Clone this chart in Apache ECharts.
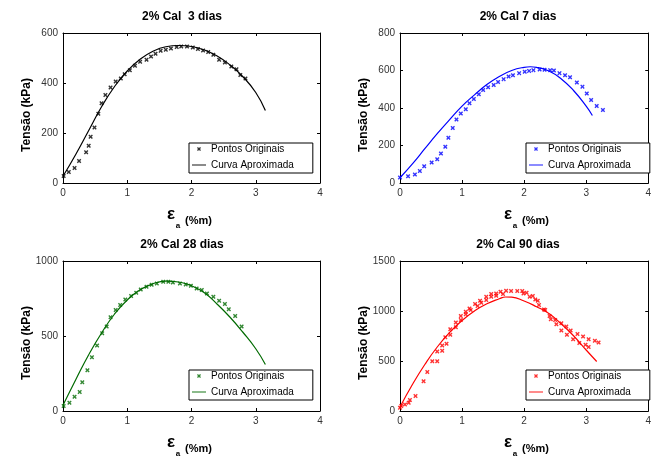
<!DOCTYPE html>
<html><head><meta charset="utf-8">
<script src="https://cdn.jsdelivr.net/npm/echarts@6/dist/echarts.min.js"></script>
<style>html,body{margin:0;padding:0;background:#fff}#c{width:654px;height:460px}</style>
</head><body><div id="c"></div>
<script>
// ---- data ----
const titles = ['2% Cal  3 dias', '2% Cal 7 dias', '2% Cal 28 dias', '2% Cal 90 dias'];
const colors = ['#000000', '#0000ff', '#006a00', '#ff0000'];
const yMax = [600, 800, 1000, 1500];
const yStep = [200, 200, 500, 500];
const xMin = 0, xMax = 4, xStep = 1;
const legendNames = ['Pontos Originais', 'Curva Aproximada'];
const yLabel = 'Tensão (kPa)';
const xLabelMain = 'ε', xLabelSub = 'a', xLabelUnit = '(%m)';

// 3 dias
const pts3x = [0.01,0.09,0.18,0.25,0.36,0.40,0.43,0.49,0.55,0.60,0.66,0.74,0.82,0.90,0.96,1.04,1.12,1.20,1.30,1.37,1.44,1.52,1.60,1.68,1.77,1.84,1.93,2.02,2.10,2.18,2.26,2.34,2.43,2.52,2.62,2.70,2.76,2.84];
const pts3y = [28,44,60,88,123,149,185,222,277,319,352,382,406,418,435,451,469,485,493,506,517,529,533,538,544,546,546,542,536,530,524,513,493,482,466,455,432,418];
const fit3x = [0,0.2,0.4,0.6,0.8,1.0,1.2,1.4,1.6,1.8,2.0,2.2,2.4,2.6,2.8,3.0,3.15];
const fit3y = [27,115,210,305,385,448,495,527,545,550,546,532,508,472,425,362,290];

// 7 dias
const pts7x = [0,0.13,0.24,0.32,0.39,0.51,0.60,0.66,0.73,0.78,0.85,0.91,0.98,1.06,1.12,1.19,1.27,1.34,1.42,1.51,1.58,1.67,1.75,1.82,1.92,2.01,2.08,2.15,2.25,2.33,2.42,2.48,2.57,2.66,2.74,2.85,2.94,3.01,3.08,3.17,3.27];
const pts7y = [29,36,45,64,89,109,127,157,193,241,293,339,371,393,425,448,473,496,511,523,539,554,568,575,586,593,598,602,605,604,602,600,586,575,564,536,514,477,443,411,389];
const fit7x = [0,0.2,0.4,0.6,0.8,1.0,1.2,1.4,1.6,1.8,2.0,2.1,2.2,2.4,2.6,2.8,3.0,3.1];
const fit7y = [28,102,183,263,338,410,470,525,568,600,617,620,617,597,555,492,410,360];

// 28 dias
const pts28x = [0.01,0.10,0.18,0.26,0.30,0.38,0.45,0.53,0.61,0.68,0.74,0.82,0.89,0.97,1.06,1.14,1.21,1.30,1.38,1.46,1.56,1.64,1.71,1.82,1.91,1.99,2.08,2.16,2.24,2.34,2.43,2.52,2.58,2.68,2.78];
const pts28y = [33,55,95,126,192,272,358,437,519,563,625,673,707,744,766,788,810,828,841,850,861,861,857,850,843,835,817,806,784,762,735,713,678,634,563];
const fit28x = [0,0.2,0.4,0.6,0.8,1.0,1.2,1.4,1.6,1.8,2.0,2.2,2.4,2.6,2.8,3.0,3.15];
const fit28y = [38,210,375,520,645,740,808,848,866,860,835,788,712,625,525,415,310];

// 90 dias
const pts90x = [0,0.02,0.08,0.14,0.16,0.25,0.38,0.44,0.52,0.60,0.60,0.68,0.68,0.73,0.75,0.81,0.81,0.90,0.90,0.98,0.98,1.06,1.06,1.12,1.14,1.21,1.25,1.29,1.31,1.39,1.39,1.47,1.47,1.55,1.55,1.62,1.66,1.71,1.79,1.89,1.97,1.99,2.04,2.09,2.14,2.18,2.22,2.24,2.32,2.34,2.41,2.43,2.50,2.52,2.60,2.60,2.68,2.69,2.75,2.79,2.86,2.89,2.95,2.99,3.04,3.04,3.14,3.20];
const pts90y = [33,50,66,83,109,149,298,391,497,497,596,603,656,738,672,762,818,838,884,911,950,967,993,1026,1010,1069,1050,1103,1083,1109,1142,1142,1169,1175,1152,1192,1169,1202,1199,1199,1199,1175,1182,1142,1149,1116,1103,1060,1016,1010,950,917,911,868,877,805,844,762,805,718,771,679,745,662,718,639,702,685];
const fit90x = [0,0.2,0.4,0.6,0.8,1.0,1.2,1.4,1.6,1.7,1.8,2.0,2.2,2.4,2.6,2.8,3.0,3.17];
const fit90y = [40,265,465,640,785,905,1000,1072,1122,1140,1138,1100,1043,975,870,750,610,495];

// ---- build ----
const zip = (a, b) => a.map((v, i) => [v, b[i]]);
const ptsSets = [zip(pts3x, pts3y), zip(pts7x, pts7y), zip(pts28x, pts28y), zip(pts90x, pts90y)];
const fitSets = [zip(fit3x, fit3y), zip(fit7x, fit7y), zip(fit28x, fit28y), zip(fit90x, fit90y)];

const FONT = 'Liberation Sans, Arial, Helvetica, sans-serif';
const xMark = 'path://M0,2.2L2.2,0L5,2.8L7.8,0L10,2.2L7.2,5L10,7.8L7.8,10L5,7.2L2.2,10L0,7.8L2.8,5Z';
const lineIcon = 'path://M0,0L20,0L20,1.3L0,1.3Z';

const gridPos = [[63, 33], [400, 33], [63, 261], [400, 261]];
const legendPos = [[189, 143], [526, 143], [189, 370], [526, 370]];
const grids = [], xAxes = [], yAxes = [], series = [], legends = [], graphics = [];

const lineCommon = { show: true, onZero: false, lineStyle: { color: '#000', width: 1 } };
const tickCommon = { show: true, inside: true, length: 3, lineStyle: { color: '#000', width: 1 } };
const labelCommon = { color: '#333', fontSize: 10, fontFamily: FONT, margin: 5, formatter: v => String(v) };

for (let i = 0; i < 4; i++) {
  const col = i % 2, row = Math.floor(i / 2);
  const dx = col * 337, dy = row * 228;
  grids.push({ left: gridPos[i][0], top: gridPos[i][1], width: 257, height: 150, containLabel: false });
  xAxes.push({ type: 'value', gridIndex: i, min: xMin, max: xMax, interval: xStep, position: 'bottom',
    axisLine: lineCommon, axisTick: tickCommon, axisLabel: labelCommon, splitLine: { show: false } });
  xAxes.push({ type: 'value', gridIndex: i, min: xMin, max: xMax, interval: xStep, position: 'top',
    axisLine: lineCommon, axisTick: tickCommon, axisLabel: { show: false }, splitLine: { show: false } });
  yAxes.push({ type: 'value', gridIndex: i, min: 0, max: yMax[i], interval: yStep[i], position: 'left',
    axisLine: lineCommon, axisTick: tickCommon, axisLabel: labelCommon, splitLine: { show: false } });
  yAxes.push({ type: 'value', gridIndex: i, min: 0, max: yMax[i], interval: yStep[i], position: 'right',
    axisLine: lineCommon, axisTick: tickCommon, axisLabel: { show: false }, splitLine: { show: false } });

  const nP = legendNames[0] + '#' + i, nC = legendNames[1] + '#' + i;
  series.push({ type: 'scatter', name: nP, xAxisIndex: 2 * i, yAxisIndex: 2 * i, data: ptsSets[i],
    symbol: xMark, symbolSize: 4.5, itemStyle: { color: colors[i] }, z: 3 });
  series.push({ type: 'line', name: nC, xAxisIndex: 2 * i, yAxisIndex: 2 * i, data: fitSets[i],
    symbol: 'none', showSymbol: false, smooth: true, lineStyle: { color: colors[i], width: 1.2 },
    itemStyle: { color: colors[i] }, z: 2 });

  legends.push({ orient: 'vertical', left: legendPos[i][0], top: legendPos[i][1],
    data: [{ name: nP, icon: xMark, itemStyle: { color: colors[i] } },
           { name: nC, icon: lineIcon, itemStyle: { color: colors[i] } }],
    formatter: n => n.split('#')[0], itemWidth: 14, itemHeight: 4, itemGap: 6, symbolKeepAspect: true,
    padding: [1, 19, 3, 3], borderColor: '#000', borderWidth: 1, backgroundColor: '#fff',
    selectedMode: false, textStyle: { fontSize: 10, color: '#000', fontFamily: FONT } });

  graphics.push({ type: 'text', x: [182, 518][col], y: 17 + dy,
    style: { text: titles[i], font: 'bold 12px ' + FONT, fill: '#000', textAlign: 'center', textVerticalAlign: 'middle' } });
  graphics.push({ type: 'text', x: 27 + dx, y: 115 + dy, rotation: Math.PI / 2,
    style: { text: yLabel, font: 'bold 12px ' + FONT, fill: '#000', textAlign: 'center', textVerticalAlign: 'middle' } });
  graphics.push({ type: 'text', x: 171 + dx, y: 214 + dy,
    style: { text: xLabelMain, font: 'bold 17px ' + FONT, fill: '#000', textAlign: 'center', textVerticalAlign: 'middle' } });
  graphics.push({ type: 'text', x: 178 + dx, y: 226 + dy,
    style: { text: xLabelSub, font: 'bold 8px ' + FONT, fill: '#000', textAlign: 'center', textVerticalAlign: 'middle' } });
  graphics.push({ type: 'text', x: 185 + dx, y: 221 + dy,
    style: { text: xLabelUnit, font: 'bold 11px ' + FONT, fill: '#000', textAlign: 'left', textVerticalAlign: 'middle' } });
}

const chart = echarts.init(document.getElementById('c'), null, { renderer: 'canvas' });
chart.setOption({
  backgroundColor: '#fff',
  animation: false,
  grid: grids, xAxis: xAxes, yAxis: yAxes, series: series, legend: legends,
  graphic: graphics
});
</script></body></html>
